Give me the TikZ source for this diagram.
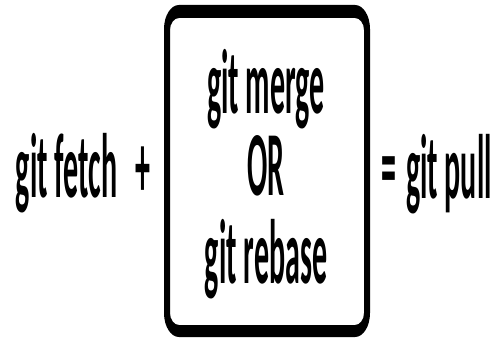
\documentclass[tikz,border=0pt]{standalone}
\usepackage{fontspec}
\setmainfont{Carlito}
\newcommand{\rrpath}[6]{(#1+#5,#2) -- (#3-#5,#2) arc[start angle=-90,end angle=0,x radius=#5pt,y radius=#6pt] -- (#3,#4-#6) arc[start angle=0,end angle=90,x radius=#5pt,y radius=#6pt] -- (#1+#5,#4) arc[start angle=90,end angle=180,x radius=#5pt,y radius=#6pt] -- (#1,#2+#6) arc[start angle=180,end angle=270,x radius=#5pt,y radius=#6pt] -- cycle}
\newcommand{\tall}[1]{\scalebox{1}[3.05]{#1}}
\begin{document}
\begin{tikzpicture}[x=1pt,y=1pt,
  lbl/.style={inner sep=0pt,outer sep=0pt,font=\fontsize{30}{30}\selectfont\bfseries}]
\useasboundingbox (0,0) rectangle (498,341);
\fill[white] (0,0) rectangle (498,341);
% frame
\fill[black,even odd rule] \rrpath{164}{4}{370}{336}{15}{24} \rrpath{170}{16}{364}{323}{9}{12};
\node (box) [inner sep=0pt,minimum width=200pt,minimum height=320pt] at (267,170) {};
% texts
\node (fetch) [lbl,anchor=base west] at (16,144) {\tall{git fetch}};
\node (plus) [lbl,anchor=base] at (143,144) {\tall{+}};
\node (merge) [lbl,anchor=base] at (266,228) {\tall{git merge}};
\node (or) [lbl,anchor=base] at (266,146) {\tall{OR}};
\node (rebase) [lbl,anchor=base] at (266,58) {\tall{git rebase}};
\node (eq) [lbl,anchor=base] at (388.5,144) {\tall{=}};
\node (pull) [lbl,anchor=base west] at (406,143) {\tall{git pull}};
\end{tikzpicture}
\end{document}
